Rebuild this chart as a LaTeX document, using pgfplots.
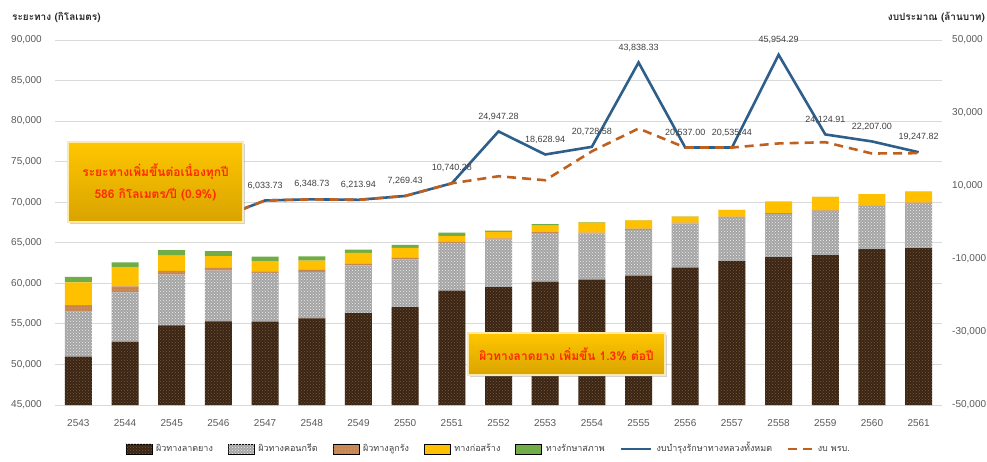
\documentclass[border=0pt]{standalone}
\usepackage{fontspec}
\setmainfont{Liberation Sans}
\newfontfamily\thaifont[Script=Thai]{Loma}
\usepackage{pgfplots}
\usepackage{pgfplotstable}
\pgfplotsset{compat=1.18}
\usetikzlibrary{patterns,shadows}

\definecolor{asph}{HTML}{3A2515}
\definecolor{asphdot}{HTML}{7A5A3A}
\definecolor{conc}{HTML}{A4A4A4}
\definecolor{concdot}{HTML}{EFEFEF}
\definecolor{later}{HTML}{C68652}
\definecolor{laterdot}{HTML}{EDBB8A}
\definecolor{constr}{HTML}{FFC000}
\definecolor{maint}{HTML}{70AD47}
\definecolor{budget}{HTML}{2E5F8A}
\definecolor{act}{HTML}{C0601E}
\definecolor{tickc}{HTML}{595959}
\definecolor{labc}{HTML}{404040}
\definecolor{gridc}{HTML}{D9D9D9}
\definecolor{boxtext}{HTML}{FF2A00}

% road length by surface (km), total = label
\pgfplotstableread{
x asph conc later constr maint total
0  50950 5560 790 2830 660 60789
1  52790 6110 740 2350 583 62573
2  54810 6270 460 1890 665 64095
3  55310 6270 320 1450 633 63983
4  55270 6020 200 1240 557 63287
5  55680 5690 290 1150 519 63329
6  56340 5860 200 1360 396 64156
7  57080 5860 200 1240 364 64744
8  59100 5900 120  700 446 66266
9  59520 5890 120  810 155 66495
10 60180 6020 100  815 200 67315
11 60460 5691 100 1235  50 67536
12 60950 5638 150 1025  30 67793
13 61950 5433 100  740  30 68253
14 62750 5406  80  780  30 69046
15 63230 5347  80 1400  20 70077
16 63480 5463  60 1645  10 70658
17 64220 5285  50 1440  10 71005
18 64350 5539  50 1400  10 71349
}\roads

% budget (million baht)
\pgfplotstableread{
x budget act
0  3000     3000
1  3500     3500
2  2500     2500
3  1100     1100
4  6033.73  6033.73
5  6348.73  6348.73
6  6213.94  6213.94
7  7269.43  7269.43
8  10740.28 10740.28
9  24947.28 12670
10 18628.94 11580
11 20728.58 19500
12 43838.33 25750
13 20537.00 20537
14 20535.44 20535
15 45954.29 21660
16 24124.91 22000
17 22207.00 18900
18 19247.82 19000
}\money

\pgfplotsset{
  asphstyle/.style={fill=asph, draw=none, postaction={pattern=crosshatch dots, pattern color=asphdot}},
  concstyle/.style={fill=conc, draw=none, postaction={pattern=crosshatch dots, pattern color=concdot}},
  laterstyle/.style={fill=later, draw=none, postaction={pattern=dots, pattern color=laterdot}},
  constrstyle/.style={fill=constr, draw=none},
  maintstyle/.style={fill=maint, draw=none},
  barleg/.style={legend image code/.code={\draw[##1] (0pt,-5pt) rectangle (26pt,5pt);}},
  lineleg/.style={legend image code/.code={\draw[##1] (0pt,0pt) -- (30pt,0pt);}},
  dashleg/.style={legend image code/.code={\draw[##1] (0pt,0pt) -- (24pt,0pt);}},
  /pgf/number format/assume math mode=true,
}

\begin{document}
\begin{tikzpicture}
\path[use as bounding box] (0,0) rectangle (987pt,461pt);

\begin{axis}[
  at={(55pt,56pt)}, anchor=south west,
  width=887pt, height=365pt, scale only axis,
  ybar stacked, bar width=27pt,
  xmin=-0.5, xmax=18.5, ymin=45000, ymax=90000,
  xtick={0,...,18},
  xticklabels={2543,2544,2545,2546,2547,2548,2549,2550,2551,2552,2553,2554,2555,2556,2557,2558,2559,2560,2561},
  ytick={45000,50000,...,90000},
  ytick pos=left, xtick pos=bottom,
  axis line style={draw=none}, major tick length=0pt,
  ymajorgrids, grid style={gridc, line width=0.8pt},
  scaled y ticks=false,
  yticklabel style={font=\fontsize{10}{12}\selectfont, color=tickc, inner sep=0pt, xshift=-13pt,
    /pgf/number format/.cd, fixed, precision=0, 1000 sep={,}},
  xticklabel style={font=\fontsize{10}{12}\selectfont, color=tickc, inner sep=0pt, yshift=-14pt},
]
\addplot[asphstyle] table[x=x, y=asph]{\roads};
\addplot[concstyle] table[x=x, y=conc]{\roads};
\addplot[laterstyle] table[x=x, y=later]{\roads};
\addplot[constrstyle] table[x=x, y=constr]{\roads};
\addplot[maintstyle] table[x=x, y=maint]{\roads};
% totals on top of the stacks
\addplot[draw=none, fill=none, point meta=explicit, nodes near coords,
  nodes near coords style={font=\fontsize{9}{11}\selectfont, color=labc, anchor=center, yshift=15pt,
    /pgf/number format/.cd, fixed, precision=0, 1000 sep={,}}]
  table[x=x, y expr=0, meta=total]{\roads};
\end{axis}

\begin{axis}[
  at={(55pt,56pt)}, anchor=south west,
  width=887pt, height=365pt, scale only axis,
  xmin=-0.5, xmax=18.5, ymin=-50000, ymax=50000,
  hide x axis, clip=false,
  ytick={-50000,-30000,...,50000},
  axis y line*=right, axis line style={draw=none}, major tick length=0pt,
  scaled y ticks=false,
  yticklabel style={font=\fontsize{10}{12}\selectfont, color=tickc, inner sep=0pt, xshift=10pt,
    /pgf/number format/.cd, fixed, precision=0, 1000 sep={,}},
  legend style={at={(0.4885,-0.12)}, anchor=center, draw=none, fill=none,
    font=\thaifont\fontsize{9}{11}\selectfont, text=labc,
    legend columns=-1,
    nodes={text height=8pt, text depth=3pt, inner sep=1pt},
    /tikz/every odd column/.append style={column sep=3pt},
    /tikz/every even column/.append style={column sep=14pt}},
]
\addlegendimage{asphstyle, barleg}
\addlegendentry{ผิวทางลาดยาง}
\addlegendimage{concstyle, barleg}
\addlegendentry{ผิวทางคอนกรีต}
\addlegendimage{laterstyle, barleg}
\addlegendentry{ผิวทางลูกรัง}
\addlegendimage{constrstyle, barleg}
\addlegendentry{ทางก่อสร้าง}
\addlegendimage{maintstyle, barleg}
\addlegendentry{ทางรักษาสภาพ}

\addplot[budget, line width=2.6pt, mark=none, lineleg] table[x=x, y=budget]{\money};
\addlegendentry{งบบำรุงรักษาทางหลวงทั้งหมด}
\addplot[act, line width=2.6pt, dash pattern=on 9pt off 6pt, mark=none, dashleg] table[x=x, y=act]{\money};
\addlegendentry{งบ พรบ.}

% value labels of the total budget line
\addplot[draw=none, mark=none, point meta=y, nodes near coords, forget plot,
  nodes near coords style={font=\fontsize{9}{11}\selectfont, color=labc, anchor=center, yshift=15pt,
    /pgf/number format/.cd, fixed, fixed zerofill, precision=2, 1000 sep={,}}]
  table[x=x, y=budget, skip coords between index={0}{4}]{\money};

% axis titles
\node[anchor=west, inner sep=0pt, font=\thaifont\bfseries\fontsize{10}{12}\selectfont, text=black!85]
  at (rel axis cs:-0.0485,1.063) {ระยะทาง (กิโลเมตร)};
\node[anchor=east, inner sep=0pt, font=\thaifont\bfseries\fontsize{10}{12}\selectfont, text=black!85]
  at (rel axis cs:1.0485,1.063) {งบประมาณ (ล้านบาท)};

% callouts
\node[top color=constr!90!yellow, bottom color=constr!85!black, draw={rgb,255:red,255;green,233;blue,168}, line width=1.5pt,
  drop shadow={opacity=0.35, shadow xshift=2pt, shadow yshift=-2pt},
  minimum width=175pt, minimum height=80pt, align=center, text=boxtext,
  font=\thaifont\bfseries\fontsize{12}{22}\selectfont]
  at (rel axis cs:0.1133,0.611) {ระยะทางเพิ่มขึ้นต่อเนื่องทุกปี\\586 กิโลเมตร/ปี (0.9\%)};
\node[top color=constr!90!yellow, bottom color=constr!85!black, draw={rgb,255:red,255;green,233;blue,168}, line width=1.5pt,
  drop shadow={opacity=0.35, shadow xshift=2pt, shadow yshift=-2pt},
  minimum width=197pt, minimum height=42pt, align=center, text=boxtext,
  font=\thaifont\bfseries\fontsize{12}{14}\selectfont]
  at (rel axis cs:0.5767,0.1397) {ผิวทางลาดยาง เพิ่มขึ้น 1.3\% ต่อปี};
\end{axis}
\end{tikzpicture}
\end{document}
